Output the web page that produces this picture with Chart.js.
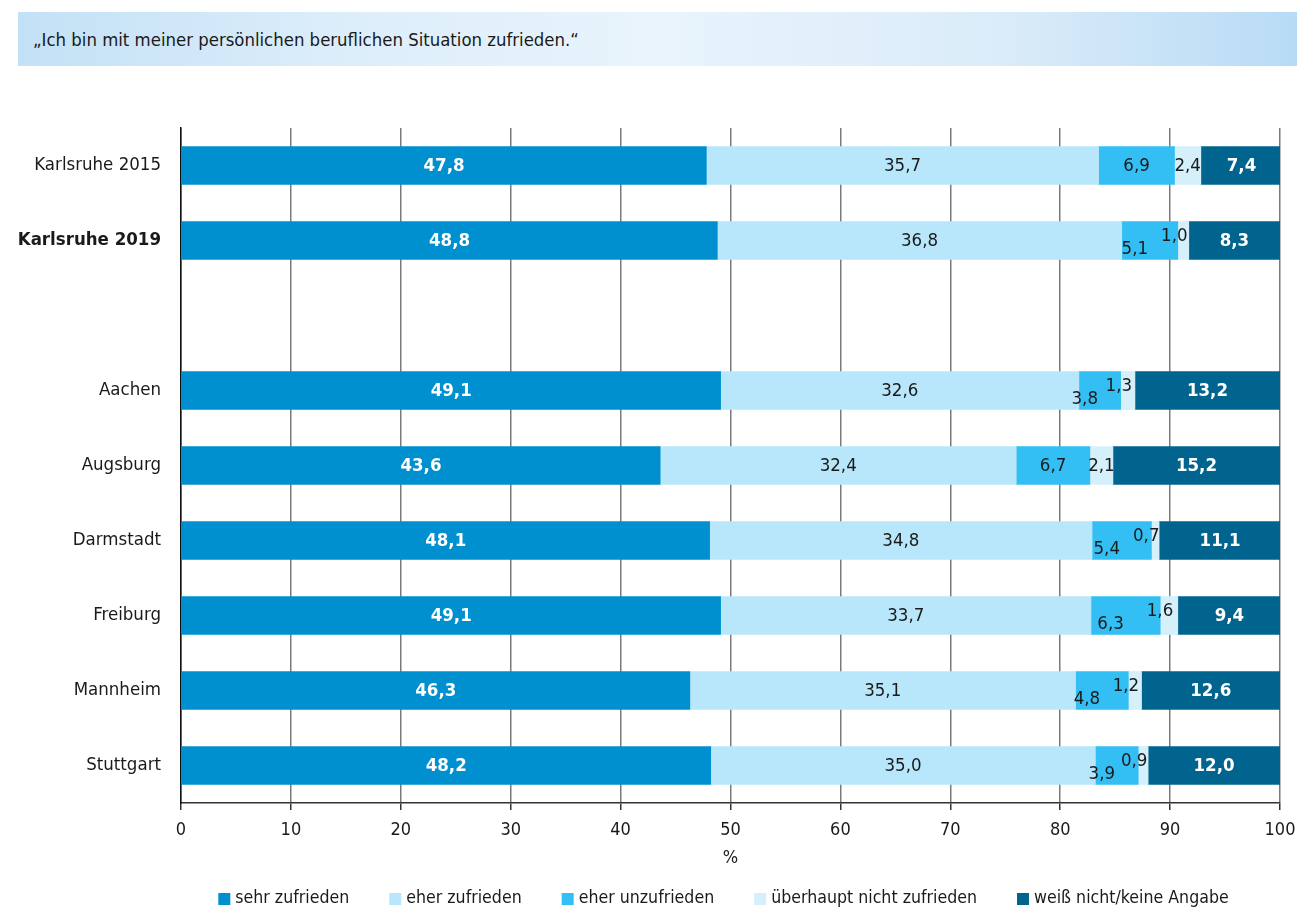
<!DOCTYPE html>
<html><head><meta charset="utf-8">
<script src="https://cdn.jsdelivr.net/npm/chart.js@4"></script>
<style>
html,body{margin:0;padding:0;background:#fff;}
#wrap{position:relative;width:1297px;height:911px;overflow:hidden;}
#title{position:absolute;left:18px;top:12px;width:1279px;height:54px;display:flex;align-items:center;
background:linear-gradient(90deg,#c3e1f6 0%,#dcedfa 25%,#e9f4fc 50%,#d9ebf9 78%,#b8dbf5 100%);}
#title span{margin-left:15px;color:#1a1a1a;}
canvas{position:absolute;left:0;top:0;}
</style></head>
<body><div id="wrap">
<div id="title"><span id="titleText"></span></div>
<canvas id="c" width="1297" height="911"></canvas>
</div>
<script>
const titleText = '„Ich bin mit meiner persönlichen beruflichen Situation zufrieden.“';
const categories = ['Karlsruhe 2015', 'Karlsruhe 2019', '', 'Aachen', 'Augsburg', 'Darmstadt', 'Freiburg', 'Mannheim', 'Stuttgart'];
const seriesNames = ['sehr zufrieden', 'eher zufrieden', 'eher unzufrieden', 'überhaupt nicht zufrieden', 'weiß nicht/keine Angabe'];
const sehrZufrieden   = [47.8, 48.8, null, 49.1, 43.6, 48.1, 49.1, 46.3, 48.2];
const eherZufrieden   = [35.7, 36.8, null, 32.6, 32.4, 34.8, 33.7, 35.1, 35.0];
const eherUnzufrieden = [6.9, 5.1, null, 3.8, 6.7, 5.4, 6.3, 4.8, 3.9];
const ueberhauptNicht = [2.4, 1.0, null, 1.3, 2.1, 0.7, 1.6, 1.2, 0.9];
const weissNicht      = [7.4, 8.3, null, 13.2, 15.2, 11.1, 9.4, 12.6, 12.0];
const axisTitle = '%';

const FONT = '"DejaVu Sans Condensed", "Open Sans", sans-serif';
document.getElementById('titleText').textContent = titleText;
document.getElementById('titleText').style.font = '18.4px ' + FONT;

const colors = ['#008fcf', '#b8e6fb', '#33bff4', '#d5effb', '#00648f'];
const series = [sehrZufrieden, eherZufrieden, eherUnzufrieden, ueberhauptNicht, weissNicht];

const valueLabels = {
  id: 'valueLabels',
  afterDatasetsDraw(chart) {
    const ctx = chart.ctx;
    ctx.save();
    ctx.textAlign = 'center';
    ctx.textBaseline = 'middle';
    chart.data.datasets.forEach((ds, d) => {
      const meta = chart.getDatasetMeta(d);
      meta.data.forEach((bar, i) => {
        const v = ds.data[i];
        if (v == null) return;
        const p = bar.getProps(['x', 'base', 'y'], true);
        let cx = (p.x + p.base) / 2, cy = p.y;
        const tight = chart.data.datasets[3].data[i] < 2;
        if (tight && d === 2) { cx -= 15; cy += 8; }
        if (tight && d === 3) { cx -= 9; cy -= 5; }
        const dark = (d === 0 || d === 4);
        ctx.font = (dark ? 'bold ' : '') + '18.5px ' + FONT;
        ctx.fillStyle = dark ? '#ffffff' : '#1a1a1a';
        ctx.fillText(v.toFixed(1).replace('.', ','), cx, cy + 1);
      });
    });
    ctx.restore();
  }
};

const bottomLegend = {
  id: 'bottomLegend',
  afterDraw(chart) {
    const ctx = chart.ctx;
    ctx.save();
    ctx.font = '17.6px ' + FONT;
    const box = 12, gap = 5, spacing = 40;
    const items = chart.data.datasets.map(ds => ({ label: ds.label, color: ds.backgroundColor, w: ctx.measureText(ds.label).width }));
    const total = items.reduce((s, it) => s + box + gap + it.w, 0) + spacing * (items.length - 1);
    let x = (chart.chartArea.left + chart.chartArea.right) / 2 - total / 2 - 7;
    const y = 898;
    ctx.textBaseline = 'middle';
    ctx.textAlign = 'left';
    items.forEach(it => {
      ctx.fillStyle = it.color;
      ctx.fillRect(x, y - 5, box, box);
      ctx.fillStyle = '#1a1a1a';
      ctx.fillText(it.label, x + box + gap, y);
      x += box + gap + it.w + spacing;
    });
    ctx.restore();
  }
};

new Chart(document.getElementById('c'), {
  type: 'bar',
  data: {
    labels: categories,
    datasets: series.map((s, k) => ({
      label: seriesNames[k],
      data: s,
      backgroundColor: colors[k],
      borderWidth: 0,
      barThickness: 38
    }))
  },
  options: {
    indexAxis: 'y',
    responsive: false,
    animation: false,
    layout: { padding: { top: 128, left: 0, right: 17, bottom: 0 } },
    plugins: { legend: { display: false }, tooltip: { enabled: false } },
    scales: {
      x: {
        stacked: true, min: 0, max: 100,
        ticks: { stepSize: 10, color: '#1a1a1a', padding: 10, font: { family: FONT, size: 18 } },
        grid: { color: '#7a7a7a', lineWidth: 1.5, tickLength: 7, tickColor: '#333333', tickWidth: 1.5 },
        border: { display: true, color: '#333333', width: 1.5 },
        title: { display: true, text: axisTitle, color: '#1a1a1a', font: { family: FONT, size: 18 }, padding: { top: 0, bottom: 42 } },
        afterFit(scale) { scale.height = 108; scale.paddingRight = 0; scale.paddingLeft = 0; }
      },
      y: {
        stacked: true,
        grid: { display: false, drawTicks: false },
        border: { display: true, color: '#111111', width: 1.5 },
        ticks: {
          color: '#1a1a1a', padding: 20,
          font: (ctx) => ({ family: FONT, size: 18.5, weight: ctx.index === 1 ? 'bold' : 'normal' })
        },
        afterFit(scale) { scale.width = 181; scale.paddingTop = 0; scale.paddingBottom = 0; }
      }
    }
  },
  plugins: [valueLabels, bottomLegend]
});
</script>
</body></html>
